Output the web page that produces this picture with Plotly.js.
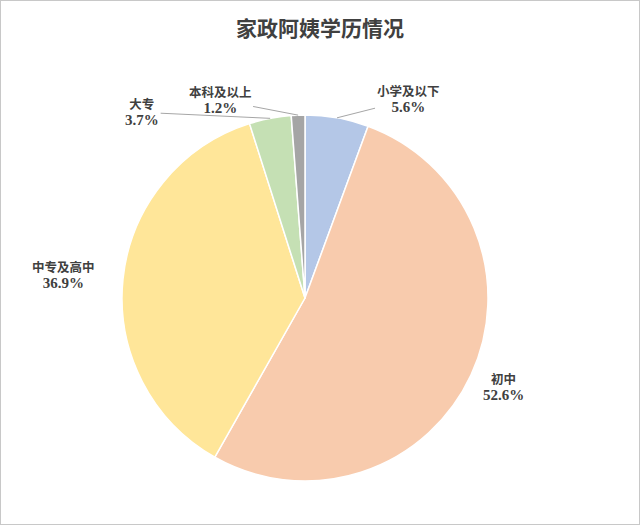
<!DOCTYPE html>
<html>
<head>
<meta charset="utf-8">
<script src="https://cdn.plot.ly/plotly-3.0.1.min.js"></script>
<style>
  body { margin: 0; background: #fff; }
  #chart { width: 638px; height: 523px; border: 1px solid #c8c8c8; }
</style>
</head>
<body>
<div id="chart"></div>
<script>
// education level of domestic helpers, percent
const levels = ['小学及以下', '初中', '中专及高中', '大专', '本科及以上'];
const shares = [5.6, 52.6, 36.9, 3.7, 1.2];
const colors = ['#B4C7E7', '#F8CBAD', '#FFE699', '#C5E0B4', '#A5A5A5'];

// label placement relative to the slice's outer edge (px); leader line or not
const labelOffsets = [[71, -18, true], [32, 13, false], [-59, -4, false], [-128, -6, true], [-78, -15, true]];

const W = 638, H = 523;          // plot size
const CX = 304, CY = 297, R = 183; // pie centre and radius, px

const font = { family: 'Liberation Serif, Noto Sans CJK SC', size: 12.5, color: '#404040', weight: 'bold' };

const total = shares.reduce((a, b) => a + b, 0);
let cum = 0;
const annotations = shares.map((v, i) => {
    const mid = (cum + v / 2) / total * 2 * Math.PI;
    cum += v;
    const px = CX + R * Math.sin(mid);
    const py = CY - R * Math.cos(mid);
    const [dx, dy, line] = labelOffsets[i];
    const a = {
        xref: 'paper', yref: 'paper',
        x: px / W, y: 1 - py / H,
        text: levels[i] + '<br><span style="font-size:15px">' + v.toFixed(1) + '%</span>',
        font: font,
        align: 'center',
        xanchor: 'center', yanchor: 'middle'
    };
    if (line) {
        Object.assign(a, { showarrow: true, arrowhead: 0, arrowwidth: 1, arrowcolor: '#a6a6a6', ax: dx, ay: dy, standoff: 0 });
    } else {
        Object.assign(a, { showarrow: false, xshift: dx, yshift: -dy });
    }
    return a;
});

const data = [{
    type: 'pie',
    labels: levels,
    values: shares,
    sort: false,
    direction: 'clockwise',
    rotation: 0,
    marker: {
        colors: colors,
        line: { color: '#ffffff', width: 1.5 }
    },
    textinfo: 'none',
    hoverinfo: 'label+percent',
    domain: { x: [(CX - R) / W, (CX + R) / W], y: [1 - (CY + R) / H, 1 - (CY - R) / H] }
}];

const layout = {
    title: {
        text: '家政阿姨学历情况',
        font: { family: 'Liberation Serif, Noto Sans CJK SC', size: 21, color: '#404040', weight: 'bold' },
        x: 0.5,
        y: 0.947,
        yanchor: 'middle'
    },
    annotations: annotations,
    showlegend: false,
    margin: { l: 0, r: 0, t: 0, b: 0 },
    paper_bgcolor: '#ffffff'
};

Plotly.newPlot('chart', data, layout, { displayModeBar: false });
</script>
</body>
</html>
